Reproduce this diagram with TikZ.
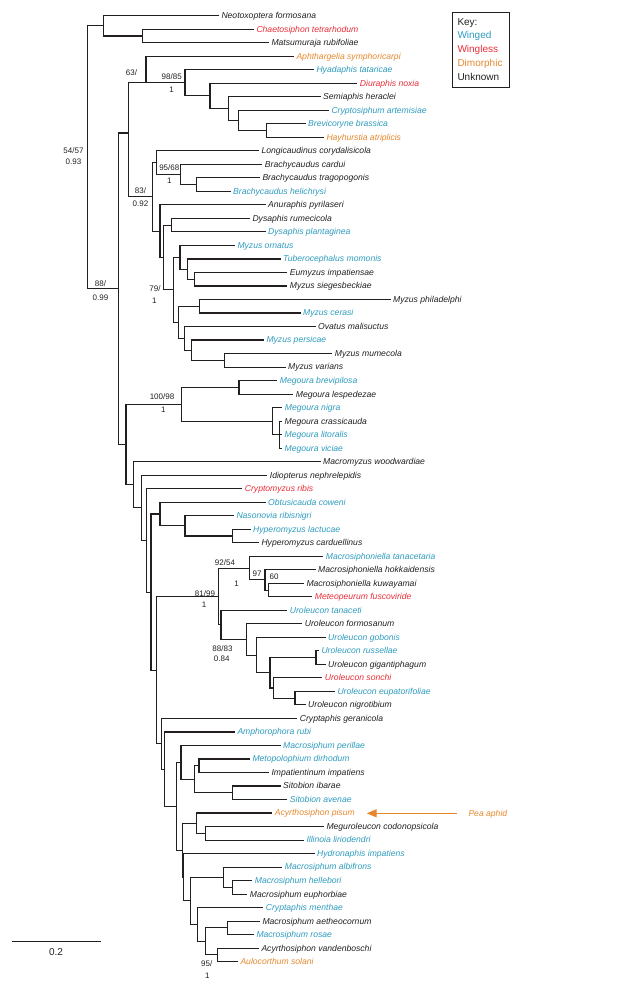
\documentclass[tikz,border=0pt]{standalone}
\usepackage{fontspec}
\setmainfont{Liberation Sans}
\usetikzlibrary{calc,arrows.meta}
\definecolor{wing}{RGB}{45,155,190}
\definecolor{wless}{RGB}{232,45,55}
\definecolor{dimo}{RGB}{230,135,45}
\definecolor{unk}{RGB}{35,31,32}
\tikzset{
  branch/.style={draw=unk,line width=1.1pt,line cap=rect},
  taxon/.style={anchor=base west,xshift=3pt,yshift=-2.9pt,inner sep=0pt,font=\fontsize{8.6}{10}\selectfont\itshape},
  suplab/.style={inner sep=0pt,text=unk,font=\fontsize{8}{9}\selectfont},
  keylab/.style={anchor=base west,inner sep=0pt,font=\fontsize{10}{12}\selectfont}
}
\newcommand\leaf[4]{\coordinate (L#1) at (#2,{15.7+(#1-1)*13.514});\node[taxon,text=#3] (T#1) at (L#1) {#4};}
\newcommand\inode[4]{\path let \p1=(#3),\p2=(#4) in (#2pt,{0.5*\y1+0.5*\y2}) coordinate (#1);}
\newcommand\edge[2]{\draw[branch] (#1) |- (#2);}
\begin{document}
\begin{tikzpicture}[x=1pt,y=-1pt]
\useasboundingbox (0,0) rectangle (617,989);
% leaves
\leaf{1}{218.3}{unk}{Neotoxoptera formosana}
\leaf{2}{253.3}{wless}{Chaetosiphon tetrarhodum}
\leaf{3}{268.3}{unk}{Matsumuraja rubifoliae}
\leaf{4}{293.3}{dimo}{Aphthargelia symphoricarpi}
\leaf{5}{313.3}{wing}{Hyadaphis tataricae}
\leaf{6}{356.7}{wless}{Diuraphis noxia}
\leaf{7}{320}{unk}{Semiaphis heraclei}
\leaf{8}{328.3}{wing}{Cryptosiphum artemisiae}
\leaf{9}{305}{wing}{Brevicoryne brassica}
\leaf{10}{323.3}{dimo}{Hayhurstia atriplicis}
\leaf{11}{258.3}{unk}{Longicaudinus corydalisicola}
\leaf{12}{261.7}{unk}{Brachycaudus cardui}
\leaf{13}{259.3}{unk}{Brachycaudus tragopogonis}
\leaf{14}{230}{wing}{Brachycaudus helichrysi}
\leaf{15}{265}{unk}{Anuraphis pyrilaseri}
\leaf{16}{249.3}{unk}{Dysaphis rumecicola}
\leaf{17}{265}{wing}{Dysaphis plantaginea}
\leaf{18}{234.3}{wing}{Myzus ornatus}
\leaf{19}{280}{wing}{Tuberocephalus momonis}
\leaf{20}{286.7}{unk}{Eumyzus impatiensae}
\leaf{21}{286.7}{unk}{Myzus siegesbeckiae}
\leaf{22}{390}{unk}{Myzus philadelphi}
\leaf{23}{300}{wing}{Myzus cerasi}
\leaf{24}{315}{unk}{Ovatus malisuctus}
\leaf{25}{263.3}{wing}{Myzus persicae}
\leaf{26}{331.7}{unk}{Myzus mumecola}
\leaf{27}{285}{unk}{Myzus varians}
\leaf{28}{276.7}{wing}{Megoura brevipilosa}
\leaf{29}{292.7}{unk}{Megoura lespedezae}
\leaf{30}{281.7}{wing}{Megoura nigra}
\leaf{31}{281.5}{unk}{Megoura crassicauda}
\leaf{32}{281.5}{wing}{Megoura litoralis}
\leaf{33}{281.5}{wing}{Megoura viciae}
\leaf{34}{320}{unk}{Macromyzus woodwardiae}
\leaf{35}{266.7}{unk}{Idiopterus nephrelepidis}
\leaf{36}{241.7}{wless}{Cryptomyzus ribis}
\leaf{37}{265}{wing}{Obtusicauda coweni}
\leaf{38}{233.3}{wing}{Nasonovia ribisnigri}
\leaf{39}{250}{wing}{Hyperomyzus lactucae}
\leaf{40}{258.3}{unk}{Hyperomyzus carduellinus}
\leaf{41}{322.7}{wing}{Macrosiphoniella tanacetaria}
\leaf{42}{315}{unk}{Macrosiphoniella hokkaidensis}
\leaf{43}{303.3}{unk}{Macrosiphoniella kuwayamai}
\leaf{44}{311.7}{wless}{Meteopeurum fuscoviride}
\leaf{45}{286.7}{wing}{Uroleucon tanaceti}
\leaf{46}{301.7}{unk}{Uroleucon formosanum}
\leaf{47}{325}{wing}{Uroleucon gobonis}
\leaf{48}{318.3}{wing}{Uroleucon russellae}
\leaf{49}{325}{unk}{Uroleucon gigantiphagum}
\leaf{50}{321.7}{wless}{Uroleucon sonchi}
\leaf{51}{334.3}{wing}{Uroleucon eupatorifoliae}
\leaf{52}{305}{unk}{Uroleucon nigrotibium}
\leaf{53}{296.7}{unk}{Cryptaphis geranicola}
\leaf{54}{234.3}{wing}{Amphorophora rubi}
\leaf{55}{280}{wing}{Macrosiphum perillae}
\leaf{56}{249.3}{wing}{Metopolophium dirhodum}
\leaf{57}{268.3}{unk}{Impatientinum impatiens}
\leaf{58}{280}{unk}{Sitobion ibarae}
\leaf{59}{286.7}{wing}{Sitobion avenae}
\leaf{60}{271.7}{dimo}{Acyrthosiphon pisum}
\leaf{61}{323.3}{unk}{Meguroleucon codonopsicola}
\leaf{62}{303.3}{wing}{Illinoia liriodendri}
\leaf{63}{314}{wing}{Hydronaphis impatiens}
\leaf{64}{281.7}{wing}{Macrosiphum albifrons}
\leaf{65}{251.7}{wing}{Macrosiphum hellebori}
\leaf{66}{246.7}{unk}{Macrosiphum euphorbiae}
\leaf{67}{262.7}{wing}{Cryptaphis menthae}
\leaf{68}{259.3}{unk}{Macrosiphum aetheocornum}
\leaf{69}{253.3}{wing}{Macrosiphum rosae}
\leaf{70}{258.3}{unk}{Acyrthosiphon vandenboschi}
\leaf{71}{237.3}{dimo}{Aulocorthum solani}
% internal nodes
\inode{A23}{142.7}{L2}{L3}
\inode{A}{103.3}{L1}{A23}
\inode{J}{266.7}{L9}{L10}
\inode{I}{238.3}{L8}{J}
\inode{H}{228.3}{L7}{I}
\inode{G}{210}{L6}{H}
\inode{F}{185}{L5}{G}
\inode{E}{146}{F}{F}
\inode{NN}{196.7}{L13}{L14}
\inode{M}{180.3}{L12}{NN}
\inode{NL}{156.7}{L11}{M}
\inode{Q}{171.7}{L16}{L17}
\inode{T}{194.3}{L20}{L21}
\inode{S}{187.7}{L19}{T}
\inode{R}{180}{L18}{S}
\inode{W}{199.3}{L22}{L23}
\inode{Z}{224.3}{L26}{L27}
\inode{Y}{191.7}{L25}{Z}
\inode{X}{184.3}{L24}{Y}
\inode{V}{178.3}{W}{X}
\inode{U}{173.3}{R}{V}
\inode{P}{163.3}{Q}{U}
\inode{O}{160}{L15}{P}
\inode{K}{152.7}{NL}{O}
\coordinate (D) at (128.3,133);
\inode{Mga}{239}{L28}{L29}
\inode{Mgc}{279.3}{L31}{L33}
\inode{Mgb}{272.7}{L30}{Mgc}
\inode{Mg}{181.7}{Mga}{Mgb}
\inode{Hy}{232.3}{L39}{L40}
\inode{Na}{185}{L38}{Hy}
\inode{Ob}{160}{L37}{Na}
\inode{Nsixty}{268.3}{L43}{L44}
\inode{Nninesev}{265}{L42}{Nsixty}
\inode{Nninetwo}{249.3}{L41}{Nninesev}
\inode{Ur}{316}{L48}{L49}
\inode{Ue}{295}{L51}{L52}
\inode{Ui}{273.3}{L50}{Ue}
\inode{Uh}{270}{Ur}{Ui}
\inode{Ug}{256.7}{L47}{Uh}
\inode{Uf}{246.7}{L46}{Ug}
\inode{Ut}{221}{L45}{Uf}
\inode{Neightyone}{218.3}{Nninetwo}{Ut}
\inode{Mt}{199}{L56}{L57}
\inode{Sit}{232.3}{L58}{L59}
\inode{Ptwo}{194.3}{Mt}{Sit}
\inode{Pone}{181}{L55}{Ptwo}
\inode{Il}{205.7}{L61}{L62}
\inode{Ap}{196.7}{L60}{Il}
\inode{hel}{232.3}{L65}{L66}
\inode{Alb}{223.3}{L64}{hel}
\inode{ros}{227.3}{L68}{L69}
\inode{Au}{217.7}{L70}{L71}
\inode{Rone}{205.7}{ros}{Au}
\inode{Cm}{197.7}{L67}{Rone}
\inode{Qthree}{190.7}{Alb}{Cm}
\inode{Qtwob}{183.5}{L63}{Qthree}
\inode{Qtwo}{182.2}{Ap}{Qtwob}
\inode{AJ}{176.7}{Pone}{Qtwo}
\inode{AI}{164.3}{L54}{AJ}
\inode{AG}{161.7}{L53}{AI}
\inode{AF}{156.7}{Neightyone}{AG}
\inode{AD}{151}{Ob}{AF}
\inode{AC}{146.7}{L36}{AD}
\inode{AB}{141.7}{L35}{AC}
\inode{AA}{133.3}{L34}{AB}
\inode{C}{126}{Mg}{AA}
\inode{B}{118.3}{D}{C}
\inode{root}{87.7}{A}{B}
% edges
\edge{A23}{L2}\edge{A23}{L3}
\edge{A}{L1}\edge{A}{A23}
\edge{J}{L9}\edge{J}{L10}
\edge{I}{L8}\edge{I}{J}
\edge{H}{L7}\edge{H}{I}
\edge{G}{L6}\edge{G}{H}
\edge{F}{L5}\edge{F}{G}
\edge{E}{L4}\edge{E}{F}
\edge{NN}{L13}\edge{NN}{L14}
\edge{M}{L12}\edge{M}{NN}
\edge{NL}{L11}\edge{NL}{M}
\edge{Q}{L16}\edge{Q}{L17}
\edge{T}{L20}\edge{T}{L21}
\edge{S}{L19}\edge{S}{T}
\edge{R}{L18}\edge{R}{S}
\edge{W}{L22}\edge{W}{L23}
\edge{Z}{L26}\edge{Z}{L27}
\edge{Y}{L25}\edge{Y}{Z}
\edge{X}{L24}\edge{X}{Y}
\edge{V}{W}\edge{V}{X}
\edge{U}{R}\edge{U}{V}
\edge{P}{Q}\edge{P}{U}
\edge{O}{L15}\edge{O}{P}
\edge{K}{NL}\edge{K}{O}
\edge{D}{E}\edge{D}{K}
\edge{Mga}{L28}\edge{Mga}{L29}
\edge{Mgc}{L31}\edge{Mgc}{L32}\edge{Mgc}{L33}
\edge{Mgb}{L30}\edge{Mgb}{Mgc}
\edge{Mg}{Mga}\edge{Mg}{Mgb}
\edge{Hy}{L39}\edge{Hy}{L40}
\edge{Na}{L38}\edge{Na}{Hy}
\edge{Ob}{L37}\edge{Ob}{Na}
\edge{Nsixty}{L43}\edge{Nsixty}{L44}
\edge{Nninesev}{L42}\edge{Nninesev}{Nsixty}
\edge{Nninetwo}{L41}\edge{Nninetwo}{Nninesev}
\edge{Ur}{L48}\edge{Ur}{L49}
\edge{Ue}{L51}\edge{Ue}{L52}
\edge{Ui}{L50}\edge{Ui}{Ue}
\edge{Uh}{Ur}\edge{Uh}{Ui}
\edge{Ug}{L47}\edge{Ug}{Uh}
\edge{Uf}{L46}\edge{Uf}{Ug}
\edge{Ut}{L45}\edge{Ut}{Uf}
\edge{Neightyone}{Nninetwo}\edge{Neightyone}{Ut}
\edge{Mt}{L56}\edge{Mt}{L57}
\edge{Sit}{L58}\edge{Sit}{L59}
\edge{Ptwo}{Mt}\edge{Ptwo}{Sit}
\edge{Pone}{L55}\edge{Pone}{Ptwo}
\edge{Il}{L61}\edge{Il}{L62}
\edge{Ap}{L60}\edge{Ap}{Il}
\edge{hel}{L65}\edge{hel}{L66}
\edge{Alb}{L64}\edge{Alb}{hel}
\edge{ros}{L68}\edge{ros}{L69}
\edge{Au}{L70}\edge{Au}{L71}
\edge{Rone}{ros}\edge{Rone}{Au}
\edge{Cm}{L67}\edge{Cm}{Rone}
\edge{Qthree}{Alb}\edge{Qthree}{Cm}
\edge{Qtwob}{L63}\edge{Qtwob}{Qthree}
\edge{Qtwo}{Ap}\edge{Qtwo}{Qtwob}
\edge{AJ}{Pone}\edge{AJ}{Qtwo}
\edge{AI}{L54}\edge{AI}{AJ}
\edge{AG}{L53}\edge{AG}{AI}
\edge{AF}{Neightyone}\edge{AF}{AG}
\edge{AD}{Ob}\edge{AD}{AF}
\edge{AC}{L36}\edge{AC}{AD}
\edge{AB}{L35}\edge{AB}{AC}
\edge{AA}{L34}\edge{AA}{AB}
\edge{C}{Mg}\edge{C}{AA}
\edge{B}{D}\edge{B}{C}
\edge{root}{A}\edge{root}{B}
% support values
\node[suplab] (s1) at (73.5,150.5) {54/57};
\node[suplab] (s1b) at (73.5,161.5) {0.93};
\node[suplab] (s2) at (131.5,72.5) {63/};
\node[suplab] (s3) at (171.7,77) {98/85};
\node[suplab] (s3b) at (171.7,89.5) {1};
\node[suplab] (s4) at (169.3,168) {95/68};
\node[suplab] (s4b) at (169.3,180.5) {1};
\node[suplab] (s5) at (140.5,191) {83/};
\node[suplab] (s5b) at (140.5,203.5) {0.92};
\node[suplab] (s6) at (100.5,283.5) {88/};
\node[suplab] (s6b) at (100.5,297.5) {0.99};
\node[suplab] (s7) at (155,288.5) {79/};
\node[suplab] (s7b) at (154.3,300.5) {1};
\node[suplab] (s8) at (162,397) {100/98};
\node[suplab] (s8b) at (163.3,410) {1};
\node[suplab] (s9) at (225,563) {92/54};
\node[suplab] (s9b) at (236.7,584) {1};
\node[suplab] (s10) at (257,573.5) {97};
\node[suplab] (s11) at (274,577) {60};
\node[suplab] (s12) at (205,593.5) {81/99};
\node[suplab] (s12b) at (204,604.5) {1};
\node[suplab] (s13) at (222.5,648.5) {88/83};
\node[suplab] (s13b) at (221.7,658.5) {0.84};
\node[suplab] (s14) at (206.7,963.5) {95/};
\node[suplab] (s14b) at (207.3,976) {1};
% key
\node[draw=unk,line width=1.1pt,minimum width=57.3pt,minimum height=74.4pt,anchor=north west,inner sep=0pt] (key) at (451.7,12.3) {};
\node[keylab,text=unk] (k0) at (457.3,25.1) {Key:};
\node[keylab,text=wing] (k1) at (457.3,38.9) {Winged};
\node[keylab,text=wless] (k2) at (457.3,52.7) {Wingless};
\node[keylab,text=dimo] (k3) at (457.3,66.5) {Dimorphic};
\node[keylab,text=unk] (k4) at (457.3,80.3) {Unknown};
% pea aphid arrow
\node[anchor=base west,inner sep=0pt,text=dimo,font=\fontsize{8.6}{10}\selectfont\itshape] (pea) at (468.3,816.2) {Pea aphid};
\coordinate (arrS) at (456.7,813.3);
\coordinate (arrE) at (366.7,813.3);
\draw[dimo,line width=1.2pt,-{Triangle[length=10pt,width=8pt]}] (arrS) -- (arrE);
% scale bar
\coordinate (sb1) at (12.3,941.7);
\coordinate (sb2) at (100,941.7);
\draw[branch] (sb1) -- (sb2);
\node[inner sep=0pt,text=unk,font=\fontsize{10}{12}\selectfont] (sbl) at (56,952.5) {0.2};
\end{tikzpicture}
\end{document}
